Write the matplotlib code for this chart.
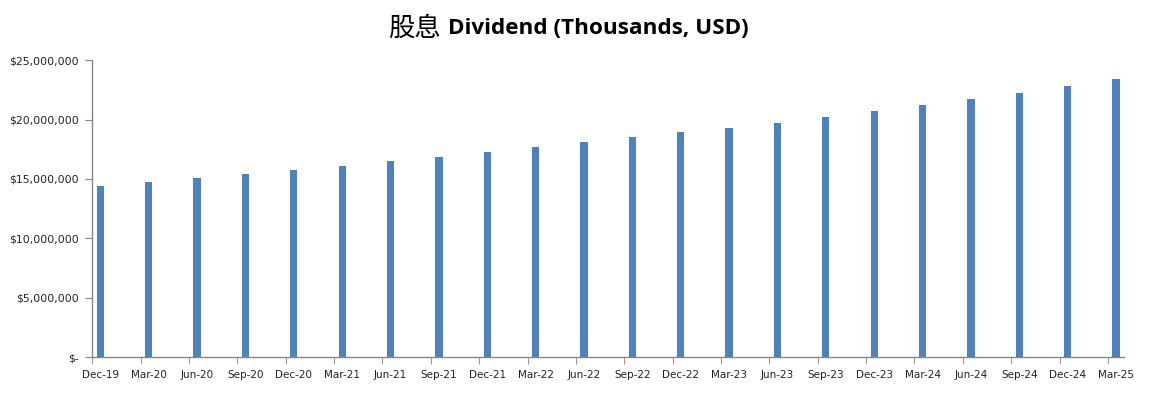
import numpy as np
import matplotlib.pyplot as plt
from matplotlib.ticker import FuncFormatter

# quarter labels and dividend values (thousands USD)
quarters = ['Dec-19', 'Mar-20', 'Jun-20', 'Sep-20', 'Dec-20', 'Mar-21', 'Jun-21',
            'Sep-21', 'Dec-21', 'Mar-22', 'Jun-22', 'Sep-22', 'Dec-22', 'Mar-23',
            'Jun-23', 'Sep-23', 'Dec-23', 'Mar-24', 'Jun-24', 'Sep-24', 'Dec-24',
            'Mar-25']
dividend = [14400000, 14730000, 15070000, 15400000, 15740000, 16080000, 16500000,
            16840000, 17260000, 17680000, 18100000, 18520000, 18950000, 19280000,
            19700000, 20200000, 20700000, 21210000, 21720000, 22220000, 22810000,
            23400000]
y_ticks = [0, 5000000, 10000000, 15000000, 20000000, 25000000]

bar_color = '#4F81BD'
axis_color = '#868686'

fig = plt.figure(figsize=(11.49, 3.95), dpi=100)
ax = fig.add_axes([0.0803, 0.0962, 0.8980, 0.7511])

x = np.arange(len(quarters))
ax.bar(x, dividend, width=0.15, color=bar_color)

# each quarter sits in the middle of its month slot (Excel date axis look)
half = 1 / 6
ax.set_xlim(-half, len(quarters) - 1 + half)
ax.set_ylim(0, 25000000)

ax.set_xticks(x)
ax.set_xticklabels(quarters)
ax.set_xticks(x - half, minor=True)
ax.tick_params(axis='x', which='major', length=0, pad=9, labelsize=7.5, labelcolor='#222222')
ax.tick_params(axis='x', which='minor', length=5, color=axis_color)

def money(v, pos):
    if v == 0:
        return '$-'
    return '${:,.0f}'.format(v)

ax.set_yticks(y_ticks)
ax.yaxis.set_major_formatter(FuncFormatter(money))
ax.tick_params(axis='y', length=5, color=axis_color, pad=5, labelsize=7.8, labelcolor='#222222')

for side in ['top', 'right']:
    ax.spines[side].set_visible(False)
for side in ['left', 'bottom']:
    ax.spines[side].set_color(axis_color)
    ax.spines[side].set_linewidth(1)

# title: Chinese part regular, English part bold
fig.text(441 / 1149, 1 - 28 / 395, '股息', ha='right', va='center', fontsize=19,
         family=['Noto Sans CJK SC', 'DejaVu Sans'])
fig.text(448 / 1149, 1 - 28 / 395, 'Dividend (Thousands, USD)', ha='left', va='center',
         fontsize=16.2, fontweight='bold', family='Open Sans')

fig.savefig('out.png', dpi=100)
